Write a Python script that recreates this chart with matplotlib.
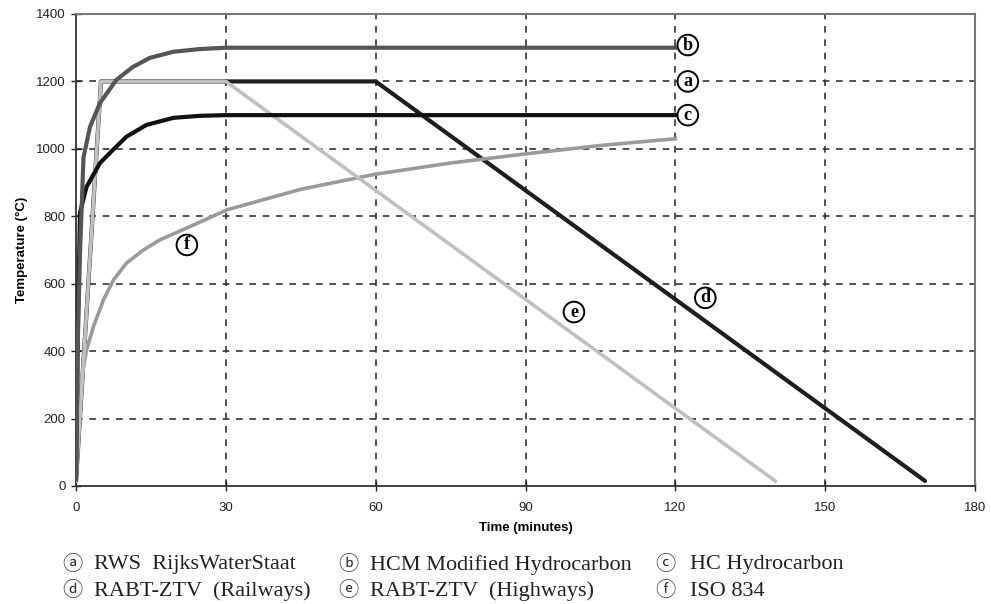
import matplotlib.pyplot as plt

# values
t_hcm = [0, 0.4, 0.8, 1.5, 2.8, 4.8, 8.1, 11.4, 14.8, 19.5, 24.8, 30, 120]
T_hcm = [20, 450, 690, 975, 1065, 1136, 1205, 1243, 1270, 1288, 1296, 1300, 1300]

t_hc = [0, 0.4, 0.8, 2.1, 4.8, 7.4, 10.1, 14.1, 19.5, 24.8, 30, 120]
T_hc = [20, 500, 810, 887, 958, 997, 1036, 1071, 1092, 1098, 1100, 1100]

t_rail = [0, 5, 60, 170]
T_rail = [15, 1200, 1200, 15]

t_high = [0, 5, 30, 140]
T_high = [15, 1200, 1200, 15]

t_iso = [0, 0.5, 1.5, 2.1, 3.5, 5.5, 7.5, 10.1, 13.5, 16.8, 23.5, 30.2, 45, 60, 75, 90, 105, 120]
T_iso = [15, 250, 354, 403, 473, 552, 611, 661, 700, 730, 774, 819, 880, 925, 958, 985, 1010, 1030]

# curve tags: letter, x, y
tags = [('b', 122.5, 1308), ('a', 122.5, 1200), ('c', 122.5, 1100),
        ('d', 126, 558), ('e', 99.7, 516), ('f', 22.2, 715)]

legend_rows = [
    [('ⓐ', 'RWS  RijksWaterStaat'), ('ⓑ', 'HCM Modified Hydrocarbon'), ('ⓒ', 'HC Hydrocarbon')],
    [('ⓓ', 'RABT-ZTV  (Railways)'), ('ⓔ', 'RABT-ZTV  (Highways)'), ('ⓕ', 'ISO 834')],
]

plt.rcParams['font.family'] = ['Liberation Sans', 'DejaVu Sans']

fig = plt.figure(figsize=(9.91, 6.04), dpi=100)
ax = fig.add_axes([76 / 991, 1 - 486 / 604, 899 / 991, 472 / 604])

ax.plot(t_rail, T_rail, c='#1e1e1e', lw=3, solid_capstyle='round', zorder=3)
ax.plot(t_high, T_high, c='#c0c0c0', lw=2.6, zorder=4)
ax.plot(t_iso, T_iso, c='#9a9a9a', lw=2.6, zorder=3)
ax.plot(t_hc, T_hc, c='#111111', lw=3, zorder=5)
ax.plot(t_hcm, T_hcm, c='#555555', lw=3, zorder=5)

ax.set_xlim(0, 180)
ax.set_ylim(0, 1400)
ax.set_xticks(range(0, 181, 30))
ax.set_yticks(range(0, 1401, 200))
ax.tick_params(direction='inout', length=7, width=1, labelsize=9.5, pad=4, colors='#222222')
ax.tick_params(axis='x', pad=8)

for x in range(30, 151, 30):
    ax.axvline(x, ls=(0, (4, 4)), c='#333333', lw=1.2, zorder=1)
for y in range(200, 1201, 200):
    ax.axhline(y, ls=(0, (4, 4)), c='#333333', lw=1.2, zorder=1)

for side in ['left', 'bottom']:
    ax.spines[side].set_color('#333333')
    ax.spines[side].set_linewidth(1.3)
for side in ['top', 'right']:
    ax.spines[side].set_color('#777777')
    ax.spines[side].set_linewidth(1.5)

ax.set_xlabel('Time (minutes)', fontsize=9.5, fontweight='bold', labelpad=6)
ax.set_ylabel('Temperature (°C)', fontsize=9.5, fontweight='bold', labelpad=6)

for letter, x, y in tags:
    ax.text(x, y, letter, fontsize=13, fontweight='bold', family='Liberation Serif',
            ha='center', va='center', zorder=6,
            bbox=dict(boxstyle='circle,pad=0.1', fc='white', ec='black', lw=1.4))

mark_x = [72, 348, 665]
text_x = [94, 370, 690]
row_y = [565, 591]
for r, row in enumerate(legend_rows):
    for c, (mark, label) in enumerate(row):
        fig.text(mark_x[c] / 991, 1 - row_y[r] / 604, mark, fontsize=14.5,
                 family=['Noto Sans CJK KR', 'DejaVu Sans'], ha='center', va='center', color='#333333')
        fig.text(text_x[c] / 991, 1 - row_y[r] / 604, label, fontsize=16,
                 family='Liberation Serif', ha='left', va='center', color='#222222')

fig.savefig('out.png', dpi=100)
